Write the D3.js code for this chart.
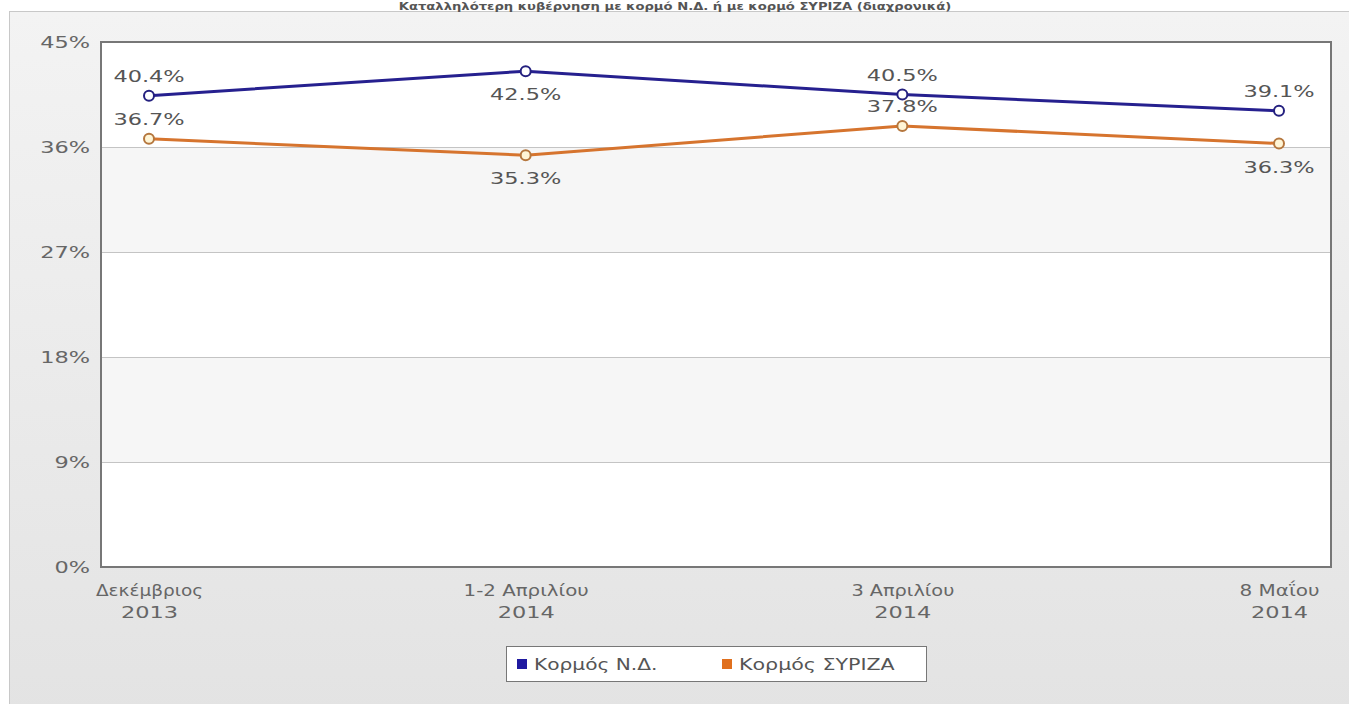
<!DOCTYPE html>
<html>
<head>
    <title></title>
    <meta charset="utf-8">
    <style>
        body { margin: 0; background: #fff; }
        svg { display: block; }
    </style>
</head>
<body>
<script src="https://d3js.org/d3.v7.min.js"></script>
<script>
    var categories = [['Δεκέμβριος', '2013'], ['1-2 Απριλίου', '2014'], ['3 Απριλίου', '2014'], ['8 Μαΐου', '2014']];
    var ndValues = [40.4, 42.5, 40.5, 39.1];
    var syrizaValues = [36.7, 35.3, 37.8, 36.3];
    var yTicks = [0, 9, 18, 27, 36, 45];
    // label above (-1) or below (1) each point
    var ndLabelPos = [-1, 1, -1, -1];
    var syrizaLabelPos = [-1, 1, -1, 1];

    var W = 1349, H = 704;
    var plot = { left: 101, top: 42, right: 1331, bottom: 567 };
    var fontName = '"DejaVu Sans"';
    var font = fontName + ', Verdana, sans-serif';

    // the source uses a wide Verdana-like face; widen DejaVu to match
    var ctx = document.createElement('canvas').getContext('2d');
    function stretch(sel) {
        sel.each(function () {
            var el = d3.select(this);
            var size = +el.attr('font-size') || 16;
            var weight = el.attr('font-weight') || 'normal';
            ctx.font = weight + ' ' + size + 'px ' + fontName;
            var str = this.textContent, w = 0;
            for (var i = 0; i < str.length; i++) {
                var c = str[i];
                var f = (c.toLowerCase() === c && c.toUpperCase() !== c) ? 1.12 : 1.4;
                w += ctx.measureText(c).width * f;
            }
            el.attr('textLength', w).attr('lengthAdjust', 'spacingAndGlyphs');
        });
    }

    var svg = d3.select('body').append('svg')
        .attr('width', W)
        .attr('height', H);

    var defs = svg.append('defs');
    var bg = defs.append('linearGradient').attr('id', 'bg')
        .attr('x1', 0).attr('y1', 0).attr('x2', 0).attr('y2', 1);
    bg.append('stop').attr('offset', '0%').attr('stop-color', '#f3f3f3');
    bg.append('stop').attr('offset', '100%').attr('stop-color', '#e3e3e3');

    // outer panel
    svg.append('rect')
        .attr('x', 9.5).attr('y', 11.5)
        .attr('width', W).attr('height', H)
        .attr('fill', 'url(#bg)')
        .attr('stroke', '#c8c8c8');

    // title
    svg.append('text')
        .attr('x', 675).attr('y', 10)
        .attr('text-anchor', 'middle')
        .attr('font-family', font)
        .attr('font-weight', 'bold')
        .attr('font-size', 11)
        .attr('fill', '#555')
        .text('Καταλληλότερη κυβέρνηση με κορμό Ν.Δ. ή με κορμό ΣΥΡΙΖΑ (διαχρονικά)')
        .call(stretch);

    var x = d3.scalePoint()
        .domain(d3.range(categories.length))
        .range([149, 1279]);
    var y = d3.scaleLinear()
        .domain([0, 45])
        .range([plot.bottom, plot.top]);

    // plot background
    svg.append('rect')
        .attr('x', plot.left).attr('y', plot.top)
        .attr('width', plot.right - plot.left)
        .attr('height', plot.bottom - plot.top)
        .attr('fill', '#fff');

    // alternate bands
    var bands = [];
    for (var i = 1; i < yTicks.length - 1; i += 2) bands.push([yTicks[i], yTicks[i + 1]]);
    svg.selectAll('.band').data(bands).enter().append('rect')
        .attr('class', 'band')
        .attr('x', plot.left)
        .attr('width', plot.right - plot.left)
        .attr('y', function (d) { return y(d[1]); })
        .attr('height', function (d) { return y(d[0]) - y(d[1]); })
        .attr('fill', '#f6f6f6');

    // grid lines
    svg.selectAll('.grid').data(yTicks.slice(1, -1)).enter().append('line')
        .attr('x1', plot.left).attr('x2', plot.right)
        .attr('y1', function (d) { return Math.round(y(d)) + 0.5; })
        .attr('y2', function (d) { return Math.round(y(d)) + 0.5; })
        .attr('stroke', '#c4c4c4')
        .attr('stroke-width', 1);

    // plot border
    svg.append('rect')
        .attr('x', plot.left).attr('y', plot.top)
        .attr('width', plot.right - plot.left)
        .attr('height', plot.bottom - plot.top)
        .attr('fill', 'none')
        .attr('stroke', '#777')
        .attr('stroke-width', 2);

    // y axis labels
    var yAxis = d3.axisLeft(y).tickValues(yTicks)
        .tickFormat(function (d) { return d + '%'; })
        .tickSize(0).tickPadding(11);
    var gy = svg.append('g')
        .attr('transform', 'translate(' + plot.left + ',0)')
        .call(yAxis);
    gy.select('.domain').remove();
    gy.selectAll('text')
        .attr('font-family', font)
        .attr('font-size', 16)
        .attr('fill', '#666')
        .call(stretch);

    // x axis labels
    var xAxis = d3.axisBottom(x).tickSize(0).tickFormat('');
    var gx = svg.append('g')
        .attr('transform', 'translate(0,' + plot.bottom + ')')
        .call(xAxis);
    gx.select('.domain').remove();
    gx.selectAll('.tick').each(function (d) {
        var g = d3.select(this);
        categories[d].forEach(function (s, k) {
            g.append('text')
                .attr('x', 0).attr('y', 29 + k * 22)
                .attr('text-anchor', 'middle')
                .attr('font-family', font)
                .attr('font-size', 16)
                .attr('fill', '#666')
                .text(s)
                .call(stretch);
        });
    });

    var line = d3.line()
        .x(function (d, i) { return x(i); })
        .y(function (d) { return y(d); });

    function drawSeries(values, color, markerFill, markerStroke, labelPos) {
        svg.append('path')
            .datum(values)
            .attr('d', line)
            .attr('fill', 'none')
            .attr('stroke', color)
            .attr('stroke-width', 3);
        svg.selectAll(null).data(values).enter().append('circle')
            .attr('cx', function (d, i) { return x(i); })
            .attr('cy', function (d) { return y(d); })
            .attr('r', 5)
            .attr('fill', markerFill)
            .attr('stroke', markerStroke)
            .attr('stroke-width', 2);
        svg.selectAll(null).data(values).enter().append('text')
            .attr('x', function (d, i) { return x(i); })
            .attr('y', function (d, i) { return y(d) + (labelPos[i] < 0 ? -14 : 29); })
            .attr('text-anchor', 'middle')
            .attr('font-family', font)
            .attr('font-size', 16)
            .attr('fill', '#555')
            .text(function (d) { return d.toFixed(1) + '%'; })
            .call(stretch);
    }

    drawSeries(ndValues, '#26208f', '#fff', '#24207f', ndLabelPos);
    drawSeries(syrizaValues, '#d6742e', '#fff5d6', '#b5773e', syrizaLabelPos);

    // legend
    var legend = svg.append('g');
    legend.append('rect')
        .attr('x', 506.5).attr('y', 646.5)
        .attr('width', 420).attr('height', 35)
        .attr('fill', '#fff')
        .attr('stroke', '#777');
    var items = [
        { name: 'Κορμός Ν.Δ.', color: '#1f1aa0', x: 517 },
        { name: 'Κορμός ΣΥΡΙΖΑ', color: '#e0701e', x: 722 }
    ];
    var li = legend.selectAll('.item').data(items).enter().append('g')
        .attr('transform', function (d) { return 'translate(' + d.x + ',664)'; });
    li.append('rect')
        .attr('x', 0).attr('y', -5)
        .attr('width', 10).attr('height', 10)
        .attr('fill', function (d) { return d.color; });
    li.append('text')
        .attr('x', 17).attr('y', 6)
        .attr('font-family', font)
        .attr('font-size', 16)
        .attr('fill', '#555')
        .text(function (d) { return d.name; })
        .call(stretch);
</script>
</body>
</html>
